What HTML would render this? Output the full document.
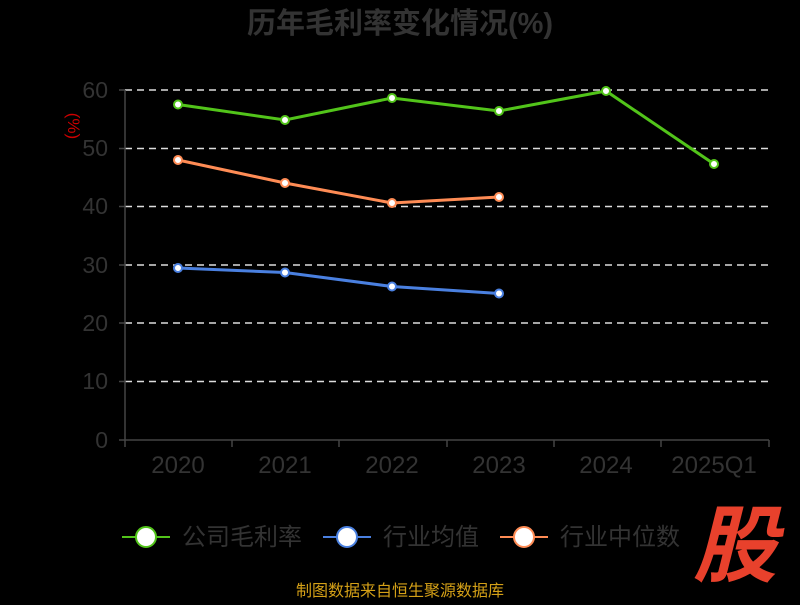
<!DOCTYPE html>
<html><head><meta charset="utf-8"><style>
body{margin:0;background:#000;width:800px;height:600px;overflow:hidden;font-family:"Liberation Sans","Noto Sans CJK SC",sans-serif}
</style></head><body>
<svg width="800" height="600" xmlns="http://www.w3.org/2000/svg" font-family="Liberation Sans, Noto Sans CJK SC, sans-serif">
<rect width="800" height="600" fill="#000"/>
<text x="400" y="33" text-anchor="middle" font-size="29" font-weight="bold" fill="#333">历年毛利率变化情况(%)</text>
<text x="68" y="126" font-size="17" fill="#c00" transform="rotate(90 68 126)" text-anchor="middle">(%)</text>
<g stroke="#ddd" stroke-width="1.5" stroke-dasharray="7,5">
<line x1="125" y1="90" x2="769" y2="90"/><line x1="125" y1="148.5" x2="769" y2="148.5"/>
<line x1="125" y1="206.5" x2="769" y2="206.5"/><line x1="125" y1="265" x2="769" y2="265"/>
<line x1="125" y1="323" x2="769" y2="323"/><line x1="125" y1="381.5" x2="769" y2="381.5"/>
</g>
<g stroke="#444" stroke-width="1.5">
<line x1="125" y1="90" x2="125" y2="441"/><line x1="125" y1="440" x2="769" y2="440"/>
<line x1="119" y1="90" x2="125" y2="90"/><line x1="119" y1="148.5" x2="125" y2="148.5"/><line x1="119" y1="206.5" x2="125" y2="206.5"/><line x1="119" y1="265" x2="125" y2="265"/><line x1="119" y1="323" x2="125" y2="323"/><line x1="119" y1="381.5" x2="125" y2="381.5"/><line x1="119" y1="440" x2="125" y2="440"/>
<line x1="125" y1="440" x2="125" y2="447"/><line x1="232" y1="440" x2="232" y2="447"/><line x1="339" y1="440" x2="339" y2="447"/><line x1="447" y1="440" x2="447" y2="447"/><line x1="554" y1="440" x2="554" y2="447"/><line x1="661" y1="440" x2="661" y2="447"/><line x1="769" y1="440" x2="769" y2="447"/>
</g>
<g font-size="23" fill="#333" text-anchor="end">
<text x="108" y="98">60</text><text x="108" y="156">50</text><text x="108" y="214">40</text><text x="108" y="273">30</text><text x="108" y="331">20</text><text x="108" y="389">10</text><text x="108" y="448">0</text>
</g>
<g font-size="24" fill="#333" text-anchor="middle">
<text x="178" y="473">2020</text><text x="285" y="473">2021</text><text x="392" y="473">2022</text><text x="499" y="473">2023</text><text x="606" y="473">2024</text><text x="714" y="473">2025Q1</text>
</g>
<g fill="#fff" stroke-width="2">
<polyline fill="none" stroke="#52c41a" stroke-width="3" points="178,104.5 285,120 392,98 499,111 606,91 714,164"/>
<g stroke="#52c41a"><circle cx="178" cy="104.5" r="4"/><circle cx="285" cy="120" r="4"/><circle cx="392" cy="98" r="4"/><circle cx="499" cy="111" r="4"/><circle cx="606" cy="91" r="4"/><circle cx="714" cy="164" r="4"/></g>
<polyline fill="none" stroke="#ff8c55" stroke-width="3" points="178,160 285,183 392,203 499,197"/>
<g stroke="#ff8c55"><circle cx="178" cy="160" r="4"/><circle cx="285" cy="183" r="4"/><circle cx="392" cy="203" r="4"/><circle cx="499" cy="197" r="4"/></g>
<polyline fill="none" stroke="#4a80e0" stroke-width="3" points="178,268 285,272.5 392,286.5 499,293.5"/>
<g stroke="#4a80e0"><circle cx="178" cy="268" r="4"/><circle cx="285" cy="272.5" r="4"/><circle cx="392" cy="286.5" r="4"/><circle cx="499" cy="293.5" r="4"/></g>
</g>
<g stroke-width="2" fill="#fff">
<line x1="122" y1="537" x2="170" y2="537" stroke="#52c41a"/><circle cx="146" cy="537" r="10" stroke="#52c41a"/>
<line x1="323" y1="537" x2="371" y2="537" stroke="#4a80e0"/><circle cx="347" cy="537" r="10" stroke="#4a80e0"/>
<line x1="500" y1="537" x2="548" y2="537" stroke="#ff8c55"/><circle cx="524" cy="537" r="10" stroke="#ff8c55"/>
</g>
<g font-size="24" fill="#333">
<text x="182" y="545">公司毛利率</text><text x="383" y="545">行业均值</text><text x="560" y="545">行业中位数</text>
</g>
<text x="735" y="575" text-anchor="middle" font-size="84" font-weight="bold" font-style="italic" fill="#e8412c">股</text>
<text x="400" y="596" text-anchor="middle" font-size="16" fill="#d4a017">制图数据来自恒生聚源数据库</text>
</svg>
</body></html>
